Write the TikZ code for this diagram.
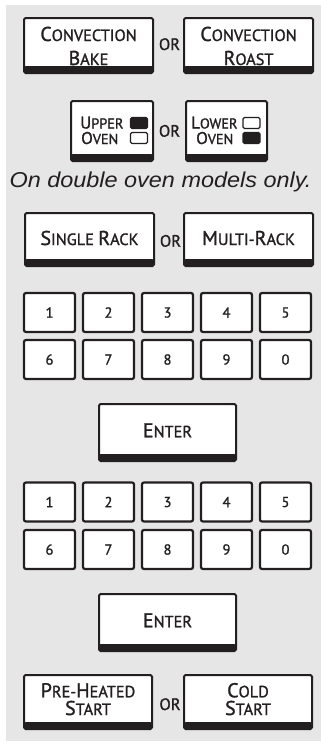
\documentclass[tikz,border=0pt]{standalone}
\usepackage{fontspec}
\setmainfont{PT Sans}
\newfontfamily\btnfont[FakeBold=1.3]{PT Sans}
\newfontfamily\notefont{Liberation Sans}
\definecolor{ink}{HTML}{231F20}
\definecolor{panel}{HTML}{E6E6E6}
\newcommand\BL[1]{{\fontsize{20}{20}\selectfont #1}}
\newcommand\BM[1]{{\fontsize{17}{17}\selectfont #1}}
\tikzset{
  btn/.style 2 args={draw=ink, line width=2pt, fill=white, rounded corners=1.5pt,
    inner sep=0pt, minimum width=#1, minimum height=#2,
    path picture={\fill[ink] ([yshift=7pt]path picture bounding box.south west) rectangle (path picture bounding box.south east);}},
  keybox/.style={draw=ink, line width=2.2pt, fill=white, rounded corners=2pt,
    inner sep=0pt, minimum width=51pt, minimum height=39pt, text=ink,
    font=\btnfont\fontsize{14.5}{14.5}\selectfont},
  lbl/.style={anchor=base, inner sep=0pt, text=ink, font=\btnfont\fontsize{16.3}{16.3}\selectfont},
  lblm/.style={anchor=base, inner sep=0pt, text=ink, font=\btnfont\fontsize{14.3}{14.3}\selectfont},
  ortxt/.style={anchor=base, inner sep=0pt, text=ink, font=\btnfont\fontsize{16.5}{16.5}\selectfont},
  ind/.style={draw=ink, line width=1.3pt, rounded corners=1.5pt, minimum width=17pt,
    minimum height=11pt, inner sep=0pt, fill=white},
  indon/.style={ind, fill=ink}
}
\begin{document}
\begin{tikzpicture}[x=1pt,y=-1pt]
\useasboundingbox (0,0) rectangle (321,747);
\fill[panel] (6,5) rectangle (321,741);

% Row 1
\node[btn={129pt}{55pt}] (cbake) at (88.5,45.5) {};
\node[btn={129pt}{55pt}] (croast) at (248.5,45.5) {};
\node[lbl] (cbake1) at (88.5,41) {\BL{C}ONVECTION};
\node[lbl] (cbake2) at (88.5,65) {\BL{B}AKE};
\node[lbl] (croast1) at (248.5,41) {\BL{C}ONVECTION};
\node[lbl] (croast2) at (248.5,65) {\BL{R}OAST};
\node[ortxt] (or1) at (169.5,50) {OR};

% Row 2
\node[btn={82pt}{60pt}] (upper) at (112,131) {};
\node[btn={81pt}{60pt}] (lower) at (226.5,131) {};
\node[lblm, anchor=base west] (up1) at (80,128.5) {\BM{U}PPER};
\node[lblm, anchor=base west] (up2) at (81,144) {\BM{O}VEN};
\node[indon] (upind1) at (139,123) {};
\node[ind] (upind2) at (139,138) {};
\node[lblm, anchor=base west] (lo1) at (191,128.5) {\BM{L}OWER};
\node[lblm, anchor=base west] (lo2) at (196,144) {\BM{O}VEN};
\node[ind] (loind1) at (251.5,123) {};
\node[indon] (loind2) at (251.5,138) {};
\node[ortxt] (or2) at (169.5,136.7) {OR};
\node[anchor=base, inner sep=0pt, text=ink, font=\notefont\fontsize{21.5}{21.5}\selectfont\itshape] (note) at (160.5,187) {\scalebox{1.09}[1]{On double oven models only.}};

% Row 3
\node[btn={129pt}{53pt}] (single) at (89.5,239.5) {};
\node[btn={129pt}{53pt}] (multi) at (248.5,239.5) {};
\node[lbl] (single1) at (89.5,245) {\BL{S}INGLE \BL{R}ACK};
\node[lbl] (multi1) at (248.5,245) {\BL{M}ULTI-\BL{R}ACK};
\node[ortxt] (or3) at (170.5,246.7) {OR};

% Keypad 1
\foreach \d/\i in {1/0,2/1,3/2,4/3,5/4}{
  \node[keybox] (ka\d) at (49.5+59*\i,312.5) {\d};
}
\foreach \d/\i in {6/0,7/1,8/2,9/3,0/4}{
  \node[keybox] (kb\d) at (49.5+59*\i,359.5) {\d};
}
\node[btn={137pt}{57pt}] (enter1) at (167.5,432.5) {};
\node[lbl] (enter1t) at (167.5,437.3) {\BL{E}NTER};

% Keypad 2
\foreach \d/\i in {1/0,2/1,3/2,4/3,5/4}{
  \node[keybox] (kc\d) at (49.5+59*\i,502) {\d};
}
\foreach \d/\i in {6/0,7/1,8/2,9/3,0/4}{
  \node[keybox] (kd\d) at (49.5+59*\i,549.5) {\d};
}
\node[btn={137pt}{57pt}] (enter2) at (167.5,622.5) {};
\node[lbl] (enter2t) at (167.5,627.3) {\BL{E}NTER};

% Last row
\node[btn={128pt}{54pt}] (preheat) at (88,702) {};
\node[btn={128pt}{54pt}] (cold) at (248,702) {};
\node[lbl] (preheat1) at (88,697.3) {\BL{P}RE-\BL{H}EATED};
\node[lbl] (preheat2) at (88,715) {\BL{S}TART};
\node[lbl] (cold1) at (248,697.3) {\BL{C}OLD};
\node[lbl] (cold2) at (248,715) {\BL{S}TART};
\node[ortxt] (or4) at (170,710) {OR};
\end{tikzpicture}
\end{document}
